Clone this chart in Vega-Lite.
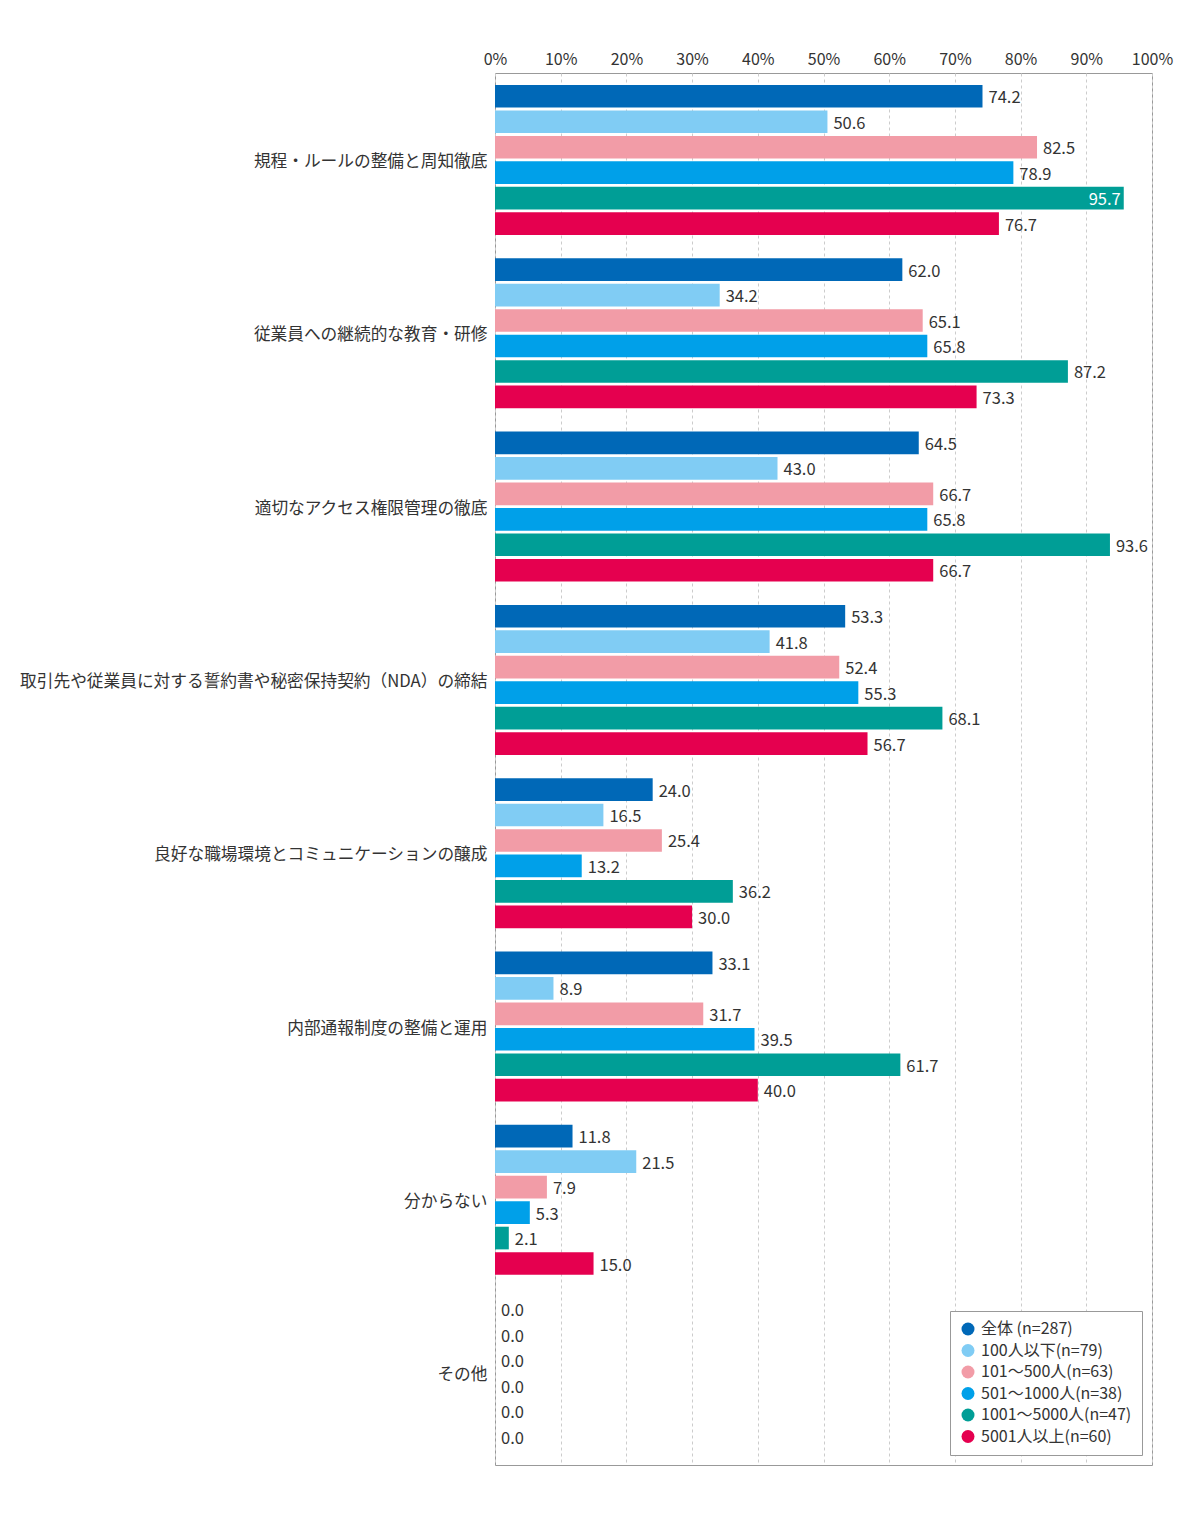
{
  "$schema": "https://vega.github.io/schema/vega-lite/v6.json",
  "width": 657,
  "height": 1392,
  "autosize": "none",
  "padding": {"left": 495, "top": 73, "right": 48, "bottom": 56},
  "background": "white",
  "config": {
    "font": "Noto Sans CJK JP",
    "view": {"stroke": "#999", "strokeWidth": 1}
  },
  "data": {
    "values": [
      {"item": "規程・ルールの整備と周知徹底", "group": "全体 (n=287)", "value": 74.2},
      {"item": "規程・ルールの整備と周知徹底", "group": "100人以下(n=79)", "value": 50.6},
      {"item": "規程・ルールの整備と周知徹底", "group": "101〜500人(n=63)", "value": 82.5},
      {"item": "規程・ルールの整備と周知徹底", "group": "501〜1000人(n=38)", "value": 78.9},
      {"item": "規程・ルールの整備と周知徹底", "group": "1001〜5000人(n=47)", "value": 95.7},
      {"item": "規程・ルールの整備と周知徹底", "group": "5001人以上(n=60)", "value": 76.7},
      {"item": "従業員への継続的な教育・研修", "group": "全体 (n=287)", "value": 62.0},
      {"item": "従業員への継続的な教育・研修", "group": "100人以下(n=79)", "value": 34.2},
      {"item": "従業員への継続的な教育・研修", "group": "101〜500人(n=63)", "value": 65.1},
      {"item": "従業員への継続的な教育・研修", "group": "501〜1000人(n=38)", "value": 65.8},
      {"item": "従業員への継続的な教育・研修", "group": "1001〜5000人(n=47)", "value": 87.2},
      {"item": "従業員への継続的な教育・研修", "group": "5001人以上(n=60)", "value": 73.3},
      {"item": "適切なアクセス権限管理の徹底", "group": "全体 (n=287)", "value": 64.5},
      {"item": "適切なアクセス権限管理の徹底", "group": "100人以下(n=79)", "value": 43.0},
      {"item": "適切なアクセス権限管理の徹底", "group": "101〜500人(n=63)", "value": 66.7},
      {"item": "適切なアクセス権限管理の徹底", "group": "501〜1000人(n=38)", "value": 65.8},
      {"item": "適切なアクセス権限管理の徹底", "group": "1001〜5000人(n=47)", "value": 93.6},
      {"item": "適切なアクセス権限管理の徹底", "group": "5001人以上(n=60)", "value": 66.7},
      {"item": "取引先や従業員に対する誓約書や秘密保持契約（NDA）の締結", "group": "全体 (n=287)", "value": 53.3},
      {"item": "取引先や従業員に対する誓約書や秘密保持契約（NDA）の締結", "group": "100人以下(n=79)", "value": 41.8},
      {"item": "取引先や従業員に対する誓約書や秘密保持契約（NDA）の締結", "group": "101〜500人(n=63)", "value": 52.4},
      {"item": "取引先や従業員に対する誓約書や秘密保持契約（NDA）の締結", "group": "501〜1000人(n=38)", "value": 55.3},
      {"item": "取引先や従業員に対する誓約書や秘密保持契約（NDA）の締結", "group": "1001〜5000人(n=47)", "value": 68.1},
      {"item": "取引先や従業員に対する誓約書や秘密保持契約（NDA）の締結", "group": "5001人以上(n=60)", "value": 56.7},
      {"item": "良好な職場環境とコミュニケーションの醸成", "group": "全体 (n=287)", "value": 24.0},
      {"item": "良好な職場環境とコミュニケーションの醸成", "group": "100人以下(n=79)", "value": 16.5},
      {"item": "良好な職場環境とコミュニケーションの醸成", "group": "101〜500人(n=63)", "value": 25.4},
      {"item": "良好な職場環境とコミュニケーションの醸成", "group": "501〜1000人(n=38)", "value": 13.2},
      {"item": "良好な職場環境とコミュニケーションの醸成", "group": "1001〜5000人(n=47)", "value": 36.2},
      {"item": "良好な職場環境とコミュニケーションの醸成", "group": "5001人以上(n=60)", "value": 30.0},
      {"item": "内部通報制度の整備と運用", "group": "全体 (n=287)", "value": 33.1},
      {"item": "内部通報制度の整備と運用", "group": "100人以下(n=79)", "value": 8.9},
      {"item": "内部通報制度の整備と運用", "group": "101〜500人(n=63)", "value": 31.7},
      {"item": "内部通報制度の整備と運用", "group": "501〜1000人(n=38)", "value": 39.5},
      {"item": "内部通報制度の整備と運用", "group": "1001〜5000人(n=47)", "value": 61.7},
      {"item": "内部通報制度の整備と運用", "group": "5001人以上(n=60)", "value": 40.0},
      {"item": "分からない", "group": "全体 (n=287)", "value": 11.8},
      {"item": "分からない", "group": "100人以下(n=79)", "value": 21.5},
      {"item": "分からない", "group": "101〜500人(n=63)", "value": 7.9},
      {"item": "分からない", "group": "501〜1000人(n=38)", "value": 5.3},
      {"item": "分からない", "group": "1001〜5000人(n=47)", "value": 2.1},
      {"item": "分からない", "group": "5001人以上(n=60)", "value": 15.0},
      {"item": "その他", "group": "全体 (n=287)", "value": 0.0},
      {"item": "その他", "group": "100人以下(n=79)", "value": 0.0},
      {"item": "その他", "group": "101〜500人(n=63)", "value": 0.0},
      {"item": "その他", "group": "501〜1000人(n=38)", "value": 0.0},
      {"item": "その他", "group": "1001〜5000人(n=47)", "value": 0.0},
      {"item": "その他", "group": "5001人以上(n=60)", "value": 0.0}
    ]
  },
  "encoding": {
    "y": {
      "field": "item",
      "type": "nominal",
      "sort": null,
      "title": null,
      "scale": {"paddingInner": 0.1345, "paddingOuter": 0.083, "align": 0.415, "round": false},
      "axis": {
        "domain": false,
        "ticks": false,
        "labelFontSize": 16.7,
        "labelColor": "#333",
        "labelLimit": 600,
        "labelPadding": 8,
        "labelOffset": 2
      }
    },
    "yOffset": {
      "field": "group",
      "type": "nominal",
      "sort": null,
      "scale": {
        "domain": ["全体 (n=287)", "100人以下(n=79)", "101〜500人(n=63)", "501〜1000人(n=38)", "1001〜5000人(n=47)", "5001人以上(n=60)"],
        "paddingInner": 0.11,
        "paddingOuter": 0,
        "round": false
      }
    },
    "x": {
      "field": "value",
      "type": "quantitative",
      "title": null,
      "scale": {"domain": [0, 100], "nice": false},
      "axis": {
        "orient": "top",
        "values": [0, 10, 20, 30, 40, 50, 60, 70, 80, 90, 100],
        "labelExpr": "datum.value + '%'",
        "domain": false,
        "ticks": false,
        "labelFontSize": 16,
        "labelColor": "#333",
        "labelPadding": 6,
        "labelFlush": false,
        "grid": true,
        "gridColor": "#ccc",
        "gridDash": [3, 3]
      }
    }
  },
  "layer": [
    {
      "mark": {"type": "bar"},
      "encoding": {
        "color": {
          "field": "group",
          "type": "nominal",
          "title": null,
          "scale": {
            "domain": ["全体 (n=287)", "100人以下(n=79)", "101〜500人(n=63)", "501〜1000人(n=38)", "1001〜5000人(n=47)", "5001人以上(n=60)"],
            "range": ["#0068b7", "#80ccf4", "#f29ca7", "#00a0e9", "#009e96", "#e5004f"]
          },
          "legend": {
            "orient": "bottom-right",
            "offset": 10,
            "symbolType": "circle",
            "symbolSize": 169,
            "symbolStrokeWidth": 0,
            "labelFontSize": 16,
            "labelColor": "#333",
            "labelLimit": 300,
            "labelOffset": 5,
            "rowPadding": 5.5,
            "padding": 10,
            "strokeColor": "#999",
            "fillColor": "white"
          }
        }
      }
    },
    {
      "transform": [{"filter": "datum.value < 95"}],
      "mark": {"type": "text", "align": "left", "baseline": "middle", "dx": 6, "dy": 2, "fontSize": 16.5, "color": "#333"},
      "encoding": {
        "text": {"field": "value", "type": "quantitative", "format": ".1f"}
      }
    },
    {
      "transform": [{"filter": "datum.value >= 95"}],
      "mark": {"type": "text", "align": "right", "baseline": "middle", "dx": -3, "dy": 2, "fontSize": 16.5, "color": "white"},
      "encoding": {
        "text": {"field": "value", "type": "quantitative", "format": ".1f"}
      }
    }
  ]
}
